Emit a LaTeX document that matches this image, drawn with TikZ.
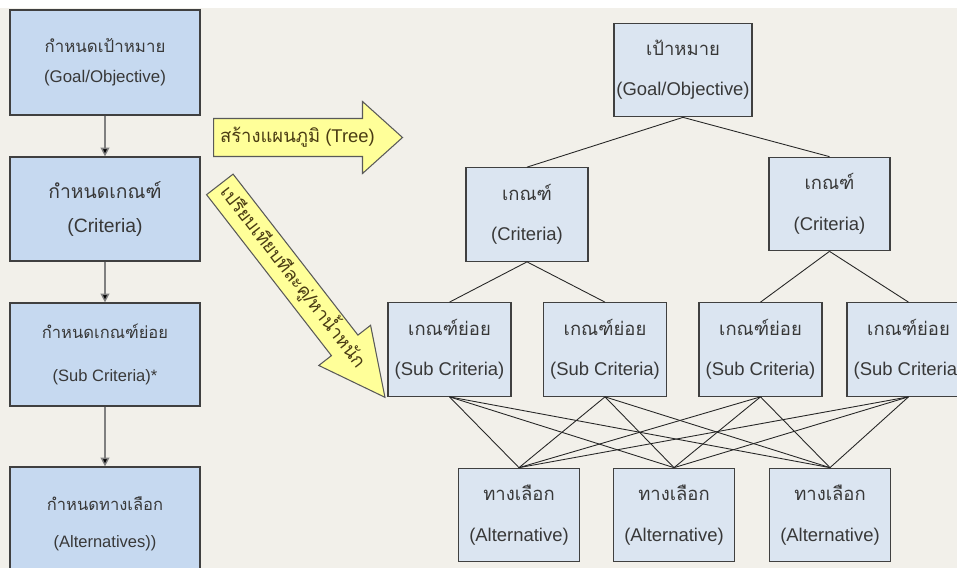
\documentclass[tikz,border=0pt]{standalone}
\usepackage{fontspec}
\setmainfont{Liberation Sans}
\newfontfamily\thai[Script=Thai]{Loma}
\usetikzlibrary{arrows.meta,shapes.arrows}

\definecolor{pagebg}{HTML}{F2F0EA}
\definecolor{stepfill}{HTML}{C6D9F0}
\definecolor{treefill}{HTML}{DBE5F1}
\definecolor{boxline}{HTML}{404040}
\definecolor{arrowfill}{HTML}{FFFF99}
\definecolor{arrowtext}{HTML}{4A3C14}
\definecolor{textgray}{HTML}{383838}

\tikzset{
  stepbox/.style={draw=boxline, line width=0.7pt, fill=stepfill, minimum width=3.8cm,
    align=center, inner sep=1pt, text=textgray},
  treebox/.style={draw=boxline, line width=0.7pt, fill=treefill, minimum height=1.87cm,
    align=center, inner sep=1pt, text=textgray, font=\fontsize{10.5}{23}\selectfont},
  link/.style={draw=black!85, line width=0.5pt},
  flow/.style={draw=gray, line width=0.8pt, -{Triangle[length=5pt,width=5pt,fill=black]}},
  bigarrow/.style={single arrow, draw=black!65, line width=0.6pt, fill=arrowfill,
    inner xsep=1pt, inner ysep=0pt, text=arrowtext, font=\fontsize{10.5}{12}\selectfont}
}

\begin{document}
\begin{tikzpicture}[x=0.02cm, y=-0.02cm]
\useasboundingbox (0,0) rectangle (957,568);
\clip (0,0) rectangle (957,568);
\fill[pagebg] (0,0) rectangle (957,568);
\fill[white] (0,0) rectangle (957,8);

\node[stepbox, minimum height=2.1cm, font=\fontsize{9.6}{17}\selectfont] (s1) at (105,62.5)
  {{\thai กำหนดเป้าหมาย}\\(Goal/Objective)};
\node[stepbox, minimum height=2.08cm, font=\fontsize{11}{19}\selectfont] (s2) at (105,209)
  {{\thai กำหนดเกณฑ์}\\(Criteria)};
\node[stepbox, minimum height=2.06cm, font=\fontsize{9.4}{24}\selectfont] (s3) at (105,354.5)
  {{\thai กำหนดเกณฑ์ย่อย}\\(Sub Criteria)*};
\node[stepbox, minimum height=2.26cm, font=\fontsize{9.4}{21}\selectfont] (s4) at (105,523.5)
  {{\thai กำหนดทางเลือก}\\(Alternatives))};
\draw[flow] (s1) -- (s2);
\draw[flow] (s2) -- (s3);
\draw[flow] (s3) -- (s4);

\node[bigarrow, anchor=tail, minimum height=3.78cm, single arrow tip angle=84,
  single arrow head extend=0.34cm, text height=0.47cm, text depth=0.27cm] (tree) at (213,137.5)
  {{\thai สร้างแผนภูมิ} (Tree)};
\node[bigarrow, anchor=tail, rotate=-52.2, minimum height=5.39cm, single arrow tip angle=53,
  single arrow head extend=0.32cm, text height=0.425cm, text depth=0.225cm] (pair) at (219.5,184)
  {\thai เปรียบเทียบทีละคู่/หาน้ำหนัก};

\node[treebox, minimum width=2.76cm] (goal) at (683,70) {{\thai เป้าหมาย}\\(Goal/Objective)};
\node[treebox, minimum width=2.44cm] (crit1) at (527,214.5) {{\thai เกณฑ์}\\(Criteria)};
\node[treebox, minimum width=2.42cm] (crit2) at (829.5,204) {{\thai เกณฑ์}\\(Criteria)};
\node[treebox, minimum width=2.46cm] (sub1) at (449.5,349.5) {{\thai เกณฑ์ย่อย}\\(Sub Criteria)};
\node[treebox, minimum width=2.46cm] (sub2) at (605,349.5) {{\thai เกณฑ์ย่อย}\\(Sub Criteria)};
\node[treebox, minimum width=2.46cm] (sub3) at (760.5,349.5) {{\thai เกณฑ์ย่อย}\\(Sub Criteria)};
\node[treebox, minimum width=2.46cm] (sub4) at (908.5,349.5) {{\thai เกณฑ์ย่อย}\\(Sub Criteria)};
\node[treebox, minimum width=2.42cm] (alt1) at (519,515) {{\thai ทางเลือก}\\(Alternative)};
\node[treebox, minimum width=2.42cm] (alt2) at (674,515) {{\thai ทางเลือก}\\(Alternative)};
\node[treebox, minimum width=2.42cm] (alt3) at (830,515) {{\thai ทางเลือก}\\(Alternative)};

\draw[link] (goal.south) -- (crit1.north);
\draw[link] (goal.south) -- (crit2.north);
\draw[link] (crit1.south) -- (sub1.north);
\draw[link] (crit1.south) -- (sub2.north);
\draw[link] (crit2.south) -- (sub3.north);
\draw[link] (crit2.south) -- (sub4.north);
\foreach \s in {1,...,4}
  \foreach \a in {1,2,3}
    \draw[link] (sub\s.south) -- (alt\a.north);
\end{tikzpicture}
\end{document}
